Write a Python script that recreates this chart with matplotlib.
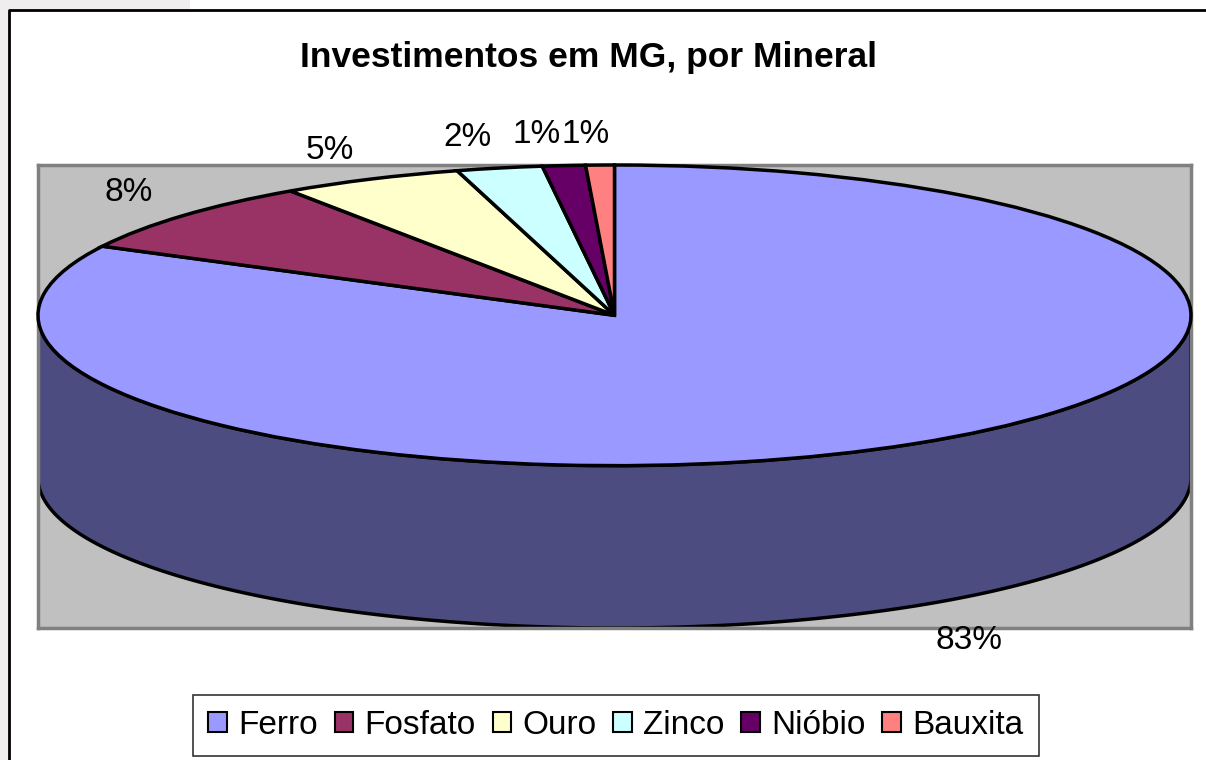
import numpy as np
import matplotlib
matplotlib.use("Agg")
import matplotlib.pyplot as plt
from matplotlib.patches import Polygon, Rectangle

plt.rcParams['font.family'] = ['Liberation Sans', 'DejaVu Sans']

# ---- data ----
title = "Investimentos em MG, por Mineral"
categories = ["Ferro", "Fosfato", "Ouro", "Zinco", "Nióbio", "Bauxita"]
values = [82.6, 7.9, 5.1, 2.4, 1.2, 0.8]
colors = ["#9999FF", "#993366", "#FFFFCC", "#CCFFFF", "#660066", "#FF8080"]
side_color = "#4C4C80"

W, H = 1206, 760
fig = plt.figure(figsize=(W / 100, H / 100), dpi=100)
fig.patch.set_facecolor("white")

# background decoration (slide edge + chart border)
bg = fig.add_axes([0, 0, 1, 1])
bg.set_xlim(0, W)
bg.set_ylim(H, 0)
bg.axis("off")
bg.add_patch(Rectangle((0, 0), 9, H, facecolor="#EFEDED", edgecolor="none"))
bg.add_patch(Rectangle((0, 0), 190, 10, facecolor="#EFEDED", edgecolor="none"))
bg.plot([9, 9, W], [H, 10, 10], color="black", lw=2, solid_capstyle="butt")

# pie axes (plot area)
depth = 1.08
ax = fig.add_axes([38 / W, 1 - 628 / H, (1191 - 38) / W, (628 - 165) / H])
wedges, _ = ax.pie(values, colors=colors, startangle=90, counterclock=False,
                   radius=1.0, center=(0, 0),
                   wedgeprops=dict(edgecolor="black", linewidth=2.5, zorder=3))
ax.set_aspect("auto")
ax.set_frame_on(True)
ax.set_facecolor("#C0C0C0")
for s in ax.spines.values():
    s.set_color("#808080")
    s.set_linewidth(2.5)
ax.set_xticks([])
ax.set_yticks([])
ax.set_xlim(-1.0, 1.0)
ax.set_ylim(-1.0 - depth, 1.0)

# side wall of the front of the pie
t = np.linspace(np.pi, 2 * np.pi, 300)
top_x, top_y = np.cos(t), np.sin(t)
verts = np.concatenate([np.column_stack([top_x, top_y]),
                        np.column_stack([top_x[::-1], top_y[::-1] - depth])])
ax.add_patch(Polygon(verts, closed=True, facecolor=side_color,
                     edgecolor="black", linewidth=2.5, zorder=2))

# labels (corner anchored just outside the ellipse, like Excel)
cum = 0.0
total = sum(values)
texts = []
for v in values:
    mid = cum + v / 2
    theta = np.deg2rad(90 - 360 * mid / total)
    c, s = np.cos(theta), np.sin(theta)
    x = 1.07 * c
    y = 1.15 * s
    if s < 0:
        y -= depth
    txt = ax.text(x, y, f"{round(100 * v / total):.0f}%",
                  ha="right" if c < 0 else "left",
                  va="baseline" if s > 0 else "top",
                  fontsize=24, clip_on=False, zorder=5)
    texts.append(txt)
    cum += v

# resolve overlaps between neighbouring labels
fig.canvas.draw()
renderer = fig.canvas.get_renderer()
inv = ax.transData.inverted()
for i in range(len(texts) - 1):
    a = texts[i].get_window_extent(renderer)
    b = texts[i + 1].get_window_extent(renderer)
    if a.overlaps(b):
        shift_px = a.x1 - b.x0 + 1
        x0, y0 = texts[i + 1].get_position()
        p = ax.transData.transform((x0, y0))
        nx, ny = inv.transform((p[0] + shift_px, p[1]))
        texts[i + 1].set_position((nx, ny))

# title
fig.text(588 / W, 1 - 58 / H, title, ha="center", va="center",
         fontsize=25.5, fontweight="bold")

# legend
handles = [Rectangle((0, 0), 1, 1, facecolor=c, edgecolor="black", lw=1.5)
           for c in colors]
leg = fig.legend(handles, categories, loc="center", ncol=6,
                 bbox_to_anchor=(616 / W, 1 - 725 / H),
                 fontsize=24, frameon=True, fancybox=False,
                 handlelength=0.55, handleheight=0.55, handletextpad=0.35,
                 columnspacing=0.5, borderpad=0.45, borderaxespad=0)
leg.get_frame().set_edgecolor("black")
leg.get_frame().set_linewidth(1.2)

fig.savefig("out.png", dpi=100, facecolor="white")
